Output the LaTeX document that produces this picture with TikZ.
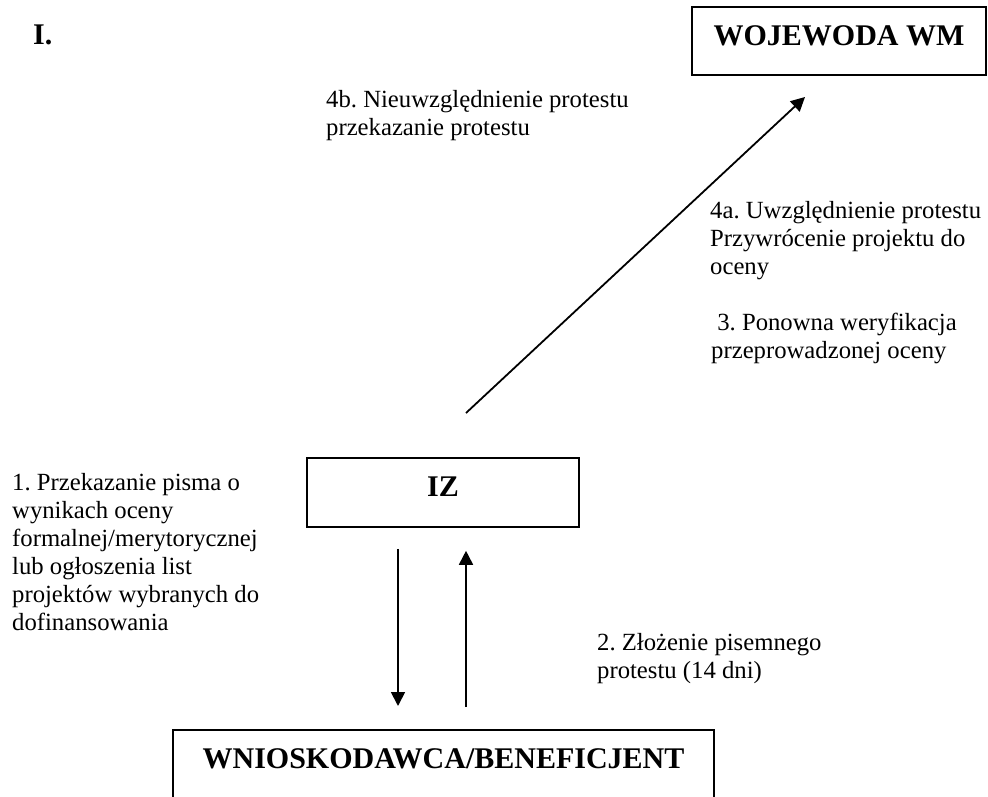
\documentclass[tikz,border=0pt]{standalone}
\usepackage{fontspec}
\setmainfont{Liberation Serif}
\usetikzlibrary{arrows.meta}
\frenchspacing
\begin{document}
\begin{tikzpicture}[x=1pt,y=-1pt,
  box/.style={draw, line width=1.6pt, inner sep=0pt,
    font=\bfseries\fontsize{30}{34}\selectfont, text height=20pt, text depth=12pt},
  note/.style={anchor=north west, inner sep=0pt, align=left,
    font=\frenchspacing\fontsize{24.7}{28}\selectfont},
  arr/.style={line width=1.8pt, -{Triangle[length=14pt,width=14pt]}}]

\useasboundingbox (0,0) rectangle (988,796);
\clip (0,0) rectangle (988,796);

% section number
\node[font=\bfseries\fontsize{30}{34}\selectfont, anchor=base west, inner sep=0pt]
  (num) at (33,44) {I.};

% boxes
\node[box, minimum width=294pt, minimum height=68pt] (woj) at (839,41) {WOJEWODA WM};
\node[box, minimum width=272pt, minimum height=69pt] (iz) at (443,492.5) {IZ};
\node[box, minimum width=541pt, minimum height=100pt, text depth=42pt, anchor=north]
  (wb) at (443.5,729) {WNIOSKODAWCA/BENEFICJENT};

% connectors
\coordinate (diagA) at (466,413);
\coordinate (diagB) at (805,97);
\draw[arr] (diagA) -- (diagB);
\draw[arr, shorten <=21pt, shorten >=23pt]
  ([xshift=-45pt]iz.south) -- ([xshift=-45pt]iz.south |- wb.north);
\draw[arr, shorten <=22pt, shorten >=23pt]
  ([xshift=23pt]iz.south |- wb.north) -- ([xshift=23pt]iz.south);

% step descriptions
\node[note] (t4b) at (326,87.4) {\strut 4b. Nieuwzględnienie protestu\\przekazanie protestu};
\node[note] (t4a) at (710,198.4) {\strut 4a. Uwzględnienie protestu\\Przywrócenie projektu do\\oceny};
\node[note] (t3) at (711,310.4) {\strut\ 3. Ponowna weryfikacja\\przeprowadzonej oceny};
\node[note] (t1) at (12,470.4) {\strut 1. Przekazanie pisma o\\wynikach oceny\\formalnej/merytorycznej\\lub ogłoszenia list\\projektów wybranych do\\dofinansowania};
\node[note] (t2) at (597,630.4) {\strut 2. Złożenie pisemnego\\protestu (14 dni)};
\end{tikzpicture}
\end{document}
